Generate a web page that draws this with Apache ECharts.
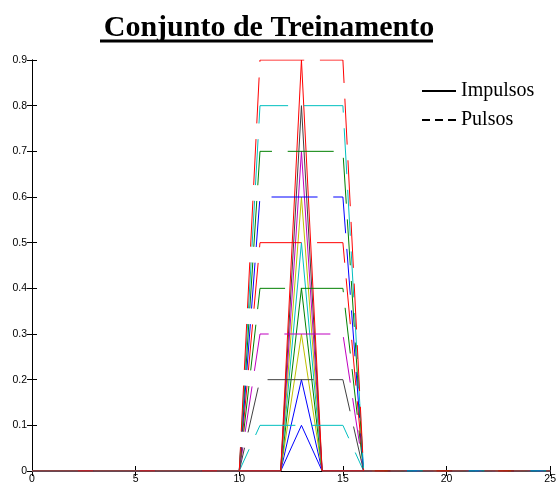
<!DOCTYPE html>
<html>
<head>
<meta charset="utf-8">
<script src="https://cdn.jsdelivr.net/npm/echarts@6/dist/echarts.min.js"></script>
<style>
  html, body { margin: 0; padding: 0; background: #fff; }
  #main { width: 559px; height: 486px; }
</style>
</head>
<body>
<div id="main"></div>
<script>
// triangle impulses centred on x = 13
let impulseX = [0, 12, 13, 14, 25];
let impulseAmps = [0.1, 0.2, 0.3, 0.4, 0.5, 0.6, 0.7, 0.8, 0.9];
let impulseColors = ['#0000ff', '#0000ff', '#bfbf00', '#008000', '#00bfbf', '#bfbf00', '#bf00bf', '#404040', '#ff0000'];

// trapezoid pulses between x = 10 and x = 16
let pulseX = [0, 10, 11, 15, 16, 25];
let pulseLevels = [0.1, 0.2, 0.3, 0.4, 0.5, 0.6, 0.7, 0.8, 0.9];
let pulseColors = ['#00bfbf', '#404040', '#bf00bf', '#008000', '#ff0000', '#0000ff', '#008000', '#00bfbf', '#ff0000'];

let xTicks = [0, 5, 10, 15, 20, 25];
let yTicks = [0, 0.1, 0.2, 0.3, 0.4, 0.5, 0.6, 0.7, 0.8, 0.9];

let chart = echarts.init(document.getElementById('main'));

let series = [];
impulseAmps.forEach(function (a, i) {
  let ys = [0, 0, a, 0, 0];
  series.push({
    type: 'line',
    symbol: 'none',
    data: impulseX.map(function (x, k) { return [x, ys[k]]; }),
    lineStyle: { color: impulseColors[i], width: 1 }
  });
});
pulseLevels.forEach(function (a, i) {
  let ys = [0, 0, a, a, 0, 0];
  series.push({
    type: 'line',
    symbol: 'none',
    data: pulseX.map(function (x, k) { return [x, ys[k]]; }),
    lineStyle: { color: pulseColors[i], width: 1, type: [46, 15.7] }
  });
});
// legend entries only
series.push({ name: 'Impulsos', type: 'line', symbol: 'none', data: [], color: '#000', lineStyle: { color: '#000', width: 2 } });
series.push({ name: 'Pulsos', type: 'line', symbol: 'none', data: [], color: '#000', lineStyle: { color: '#000', width: 2, type: [8, 5] } });

let axisFont = { fontFamily: 'Liberation Sans', fontSize: 10.5, color: '#000' };

function frameAxis(extra) {
  return Object.assign({
    type: 'value',
    axisLine: { show: true, lineStyle: { color: '#000', width: 1 } },
    axisTick: { show: true, inside: true, length: 5, lineStyle: { color: '#000' } },
    splitLine: { show: false }
  }, extra);
}

chart.setOption({
  backgroundColor: '#ffffff',
  animation: false,
  title: {
    text: 'Conjunto de Treinamento',
    left: 264,
    textAlign: 'center',
    top: 8,
    textStyle: { fontFamily: 'Liberation Serif', fontWeight: 'bold', fontSize: 30, color: '#000' }
  },
  graphic: [{
    type: 'line',
    shape: { x1: 100, y1: 41, x2: 433, y2: 41 },
    style: { stroke: '#000', lineWidth: 3 }
  }],
  legend: {
    data: ['Impulsos', 'Pulsos'],
    orient: 'vertical',
    left: 416,
    top: 76,
    itemWidth: 34,
    itemHeight: 14,
    itemGap: 9,
    itemStyle: { opacity: 0 },
    textStyle: { fontFamily: 'Liberation Serif', fontSize: 20, color: '#000' }
  },
  grid: { left: 32, right: 6, top: 60, bottom: 15, containLabel: false },
  xAxis: [
    frameAxis({ min: 0, max: 25, interval: 5,
      axisLabel: Object.assign({ margin: 3, formatter: function (v) { return xTicks.indexOf(v) >= 0 ? String(v) : ''; } }, axisFont) }),
    frameAxis({ min: 0, max: 25, interval: 5, position: 'top', axisLabel: { show: false } })
  ],
  yAxis: [
    frameAxis({ min: 0, max: 0.9, interval: 0.1,
      axisLabel: Object.assign({ margin: 5, formatter: function (v) { return String(yTicks[Math.round(v * 10)]); } }, axisFont) }),
    frameAxis({ min: 0, max: 0.9, interval: 0.1, position: 'right', axisLabel: { show: false } })
  ],
  series: series
});
</script>
</body>
</html>
